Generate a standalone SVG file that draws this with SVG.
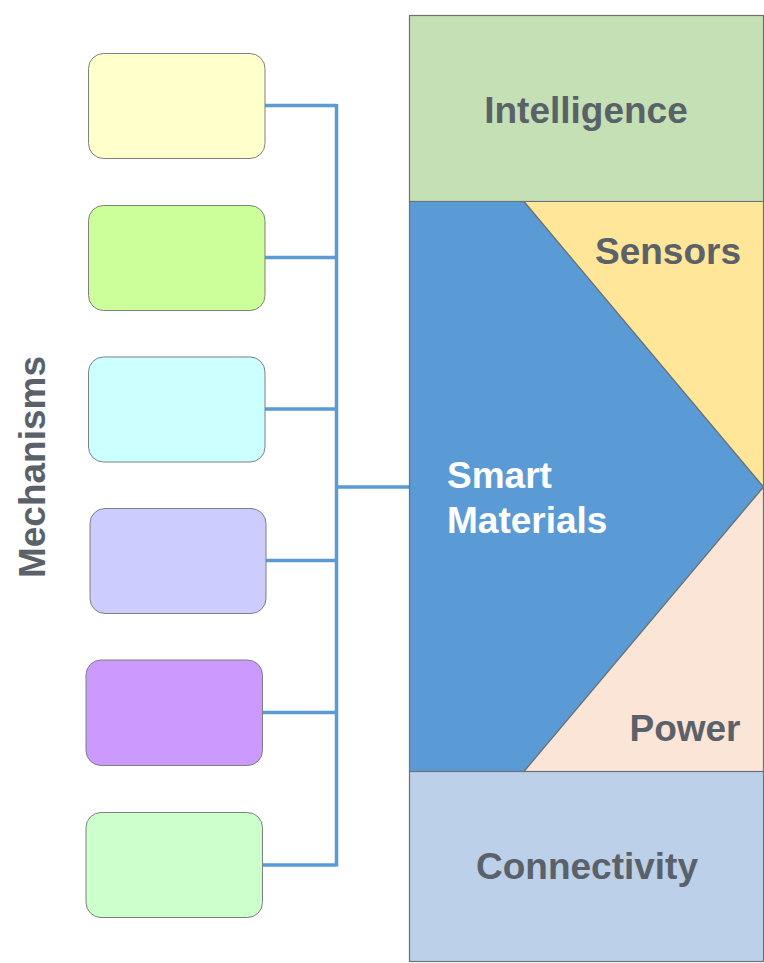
<svg xmlns="http://www.w3.org/2000/svg" width="764" height="963" viewBox="0 0 764 963">
<style>
.box{stroke:#7F7F7F;stroke-width:1}
.panel{stroke:#6B7178;stroke-width:1.2}
.lbl{font-family:"Liberation Sans",Arial,sans-serif;font-weight:bold;font-size:37px;fill:#5A6169}
.wht{fill:#FFFFFF}
.conn{fill:none;stroke:#5B9BD5;stroke-width:3.5}
</style>
<rect width="764" height="963" fill="#FFFFFF"/>
<g id="connectors">
<path class="conn" d="M265 105.5H336.5M265 257.5H336.5M265 409H336.5M266 560.5H336.5M262 712.5H336.5M262 865H336.5M336.5 104V866.5M336.5 487H409"/>
</g>
<g id="box1"><rect class="box" x="88.5" y="53.5" width="176.5" height="105" rx="15" fill="#FFFFCC"/></g>
<g id="box2"><rect class="box" x="88.5" y="205.5" width="176.5" height="105" rx="15" fill="#CCFF99"/></g>
<g id="box3"><rect class="box" x="88.5" y="357" width="176.5" height="105" rx="15" fill="#CCFFFF"/></g>
<g id="box4"><rect class="box" x="90" y="508.5" width="176" height="105" rx="15" fill="#CCCCFF"/></g>
<g id="box5"><rect class="box" x="86" y="660" width="176.5" height="105.5" rx="15" fill="#CC99FF"/></g>
<g id="box6"><rect class="box" x="86" y="812.5" width="176.5" height="105" rx="15" fill="#CCFFCC"/></g>
<g id="mechanisms"><text class="lbl" transform="translate(45,467) rotate(-90)" text-anchor="middle">Mechanisms</text></g>
<g id="intelligence">
<rect class="panel" x="409.5" y="15.5" width="354" height="186" fill="#C5E0B4"/>
<text class="lbl" x="586" y="123" text-anchor="middle">Intelligence</text>
</g>
<g id="smart-materials">
<polygon class="panel" points="409.5,201.5 524,201.5 763.5,487 524,771.5 409.5,771.5" fill="#5B9BD5"/>
<text class="lbl wht" x="447" y="488">Smart</text>
<text class="lbl wht" x="447" y="533">Materials</text>
</g>
<g id="sensors">
<polygon class="panel" points="524,201.5 763.5,201.5 763.5,487" fill="#FFE699"/>
<text class="lbl" x="668" y="264" text-anchor="middle">Sensors</text>
</g>
<g id="power">
<polygon class="panel" points="763.5,487 763.5,771.5 524,771.5" fill="#FBE5D6"/>
<text class="lbl" x="685" y="741" text-anchor="middle">Power</text>
</g>
<g id="connectivity">
<rect class="panel" x="409.5" y="771.5" width="354" height="190" fill="#BDD0E9"/>
<text class="lbl" x="587" y="879" text-anchor="middle">Connectivity</text>
</g>
</svg>
